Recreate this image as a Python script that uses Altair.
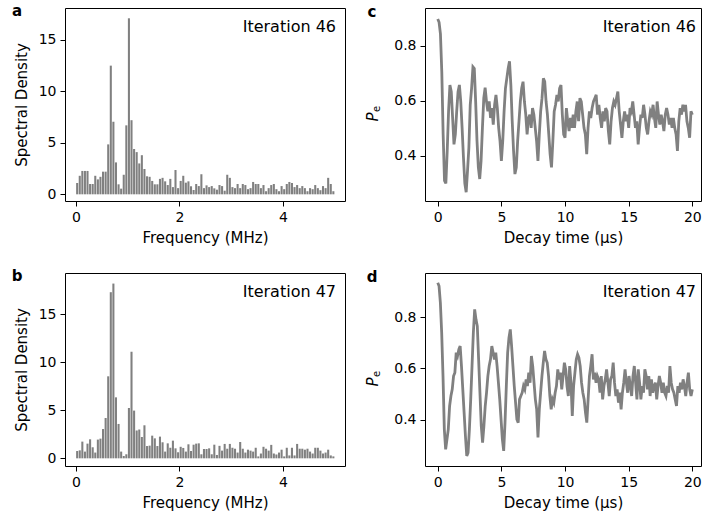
import altair as alt
import numpy as np
import pandas as pd

# ---------------- data ----------------
spec46 = [1.1, 1.8, 2.27, 2.27, 2.27, 1.0, 1.0, 1.8, 1.45, 1.7,
          2.2, 2.2, 4.85, 12.5, 7.05, 3.1, 0.97, 0.55, 1.9, 6.7,
          17.1, 7.2, 4.4, 4.1, 3.0, 3.8, 2.46, 1.75, 1.7, 1.3,
          0.97, 0.97, 1.5, 1.6, 1.26, 0.9, 1.5, 0.7, 2.36, 0.6,
          1.3, 1.8, 1.13, 1.26, 0.78, 0.42, 1.0, 0.8, 1.95, 0.6,
          0.87, 0.7, 0.8, 0.58, 0.45, 0.9,
          0.8, 0.35, 1.9, 1.6, 0.7, 0.6, 1.0, 0.6, 1.0, 0.9,
          0.5, 0.6, 1.2, 1.0, 1.0, 0.6, 0.9, 0.3, 0.6, 0.9,
          1.0, 0.5, 0.3, 0.8, 0.5, 1.0, 1.2, 1.1, 0.7, 0.9,
          0.6, 0.8, 0.6, 0.3, 0.6, 0.5, 0.9, 0.6, 0.4, 0.8,
          0.6, 1.6, 1.0, 0.3]

spec47 = [0.76, 0.83, 1.74, 0.7, 1.53, 1.98, 1.15, 0.6, 1.95, 2.05,
          3.05, 4.2, 8.54, 17.3, 18.2, 6.35, 3.58, 0.7, 0.24, 0.42,
          5.24, 11.1, 4.97, 2.9, 3.0, 2.22, 3.44, 1.28, 1.32, 2.36,
          2.08, 1.28, 2.26, 1.67, 0.7, 1.56, 1.1, 1.84, 1.04, 0.63,
          1.2, 1.08, 0.7, 1.46, 0.76, 1.42, 1.53, 1.56, 0.42, 0.97,
          0.97, 1.04, 0.42, 1.42, 0.35, 1.3,
          0.8, 1.5, 1.0, 1.5, 1.1, 1.0, 0.6, 1.7, 1.0, 0.6,
          0.9, 0.8, 0.7, 1.1, 0.2, 0.5, 1.2, 1.0, 0.8, 1.4,
          0.5, 0.4, 0.6, 0.9, 0.2, 1.1, 0.3, 1.1, 0.3, 1.5,
          1.0, 1.0, 0.9, 1.0, 0.7, 0.5, 1.1, 1.1, 0.8, 0.5,
          0.6, 0.9, 0.3, 0.2]

freqs = list(np.round(0.025 + 0.05 * np.arange(len(spec46)), 3))

pe46 = [0.898, 0.886, 0.844, 0.706, 0.478, 0.31, 0.30, 0.418, 0.562, 0.658,
        0.634, 0.538, 0.442, 0.478, 0.562, 0.634, 0.658, 0.598, 0.502, 0.394,
        0.30, 0.268, 0.346, 0.43, 0.586, 0.646, 0.724, 0.718, 0.598, 0.454,
        0.358, 0.316, 0.382, 0.502, 0.61, 0.648, 0.598, 0.562, 0.598, 0.538,
        0.574, 0.514, 0.586, 0.622, 0.574, 0.502, 0.454, 0.382, 0.454, 0.562,
        0.646, 0.682, 0.718, 0.744, 0.658, 0.526, 0.418, 0.334, 0.358, 0.454,
        0.526, 0.598, 0.646, 0.67, 0.598, 0.55, 0.478, 0.538, 0.55, 0.502,
        0.574, 0.55, 0.502, 0.454, 0.382, 0.478, 0.562, 0.61, 0.682, 0.67,
        0.598, 0.55, 0.478, 0.406, 0.358, 0.454, 0.562, 0.586, 0.622, 0.598,
        0.646, 0.658, 0.55, 0.478, 0.466, 0.574,
        0.526, 0.49, 0.538, 0.502, 0.55, 0.502, 0.562, 0.598, 0.526, 0.61,
        0.598, 0.55, 0.502, 0.478, 0.406, 0.502, 0.562, 0.538, 0.574, 0.598,
        0.61, 0.622, 0.55, 0.586, 0.538, 0.502, 0.562, 0.526, 0.574, 0.562,
        0.49, 0.442, 0.526, 0.574, 0.598, 0.586, 0.61, 0.634, 0.562, 0.514,
        0.466, 0.526, 0.562, 0.526, 0.55, 0.502, 0.574, 0.562, 0.598, 0.55,
        0.502, 0.526, 0.442, 0.502, 0.55, 0.538, 0.586, 0.55, 0.502, 0.478,
        0.526, 0.562, 0.55, 0.586, 0.538, 0.502, 0.598, 0.55, 0.514, 0.55,
        0.526, 0.49, 0.55, 0.574, 0.55, 0.514, 0.538, 0.502, 0.538, 0.502,
        0.478, 0.418, 0.526, 0.574, 0.55, 0.586, 0.562, 0.586, 0.526, 0.502,
        0.466, 0.562, 0.55]

pe47 = [0.934, 0.921, 0.856, 0.739, 0.57, 0.362, 0.284, 0.323, 0.362, 0.453,
        0.492, 0.518, 0.57, 0.583, 0.661, 0.648, 0.674, 0.687, 0.609, 0.518,
        0.427, 0.336, 0.258, 0.271, 0.362, 0.479, 0.609, 0.739, 0.83, 0.791,
        0.765, 0.635, 0.505, 0.375, 0.31, 0.375, 0.453, 0.505, 0.57, 0.609,
        0.635, 0.687, 0.661, 0.635, 0.661, 0.609, 0.544, 0.479, 0.401, 0.323,
        0.278, 0.388, 0.531, 0.661, 0.72, 0.752, 0.687, 0.609, 0.531, 0.466,
        0.401, 0.388, 0.479, 0.492, 0.505, 0.531, 0.518, 0.557, 0.531, 0.583,
        0.544, 0.648, 0.609, 0.544, 0.479, 0.44, 0.33, 0.44, 0.505, 0.57,
        0.622, 0.668, 0.635, 0.622, 0.57, 0.492, 0.44, 0.479, 0.466, 0.505,
        0.531, 0.596, 0.557, 0.583, 0.518, 0.57, 0.622, 0.596, 0.531, 0.492,
        0.609, 0.544, 0.414, 0.531, 0.583, 0.635, 0.655, 0.642, 0.609, 0.544,
        0.505, 0.479, 0.427, 0.388, 0.479, 0.57, 0.609, 0.655, 0.557, 0.583,
        0.544, 0.57, 0.557, 0.505, 0.57, 0.479, 0.531, 0.557, 0.596, 0.544,
        0.492, 0.557, 0.57, 0.622, 0.544, 0.492, 0.518, 0.466, 0.505, 0.44,
        0.505, 0.544, 0.596, 0.544, 0.505, 0.57, 0.531, 0.492, 0.57, 0.609,
        0.544, 0.479, 0.596, 0.544, 0.479, 0.531, 0.505, 0.596, 0.57, 0.518,
        0.57, 0.492, 0.557, 0.505, 0.531, 0.544, 0.479, 0.531, 0.57, 0.544,
        0.505, 0.544, 0.505, 0.492, 0.531, 0.505, 0.609, 0.544, 0.518, 0.505,
        0.479, 0.453, 0.531, 0.505, 0.544, 0.518, 0.557, 0.531, 0.492, 0.544,
        0.583, 0.518, 0.492, 0.518]

t46 = list(np.linspace(0, 20, len(pe46)))
t47 = list(np.linspace(0, 20, len(pe47)))

GRAY = "#808080"
FONT = "DejaVu Sans"
W_L, W_R, H = 280, 276, 193


def spectrum(values, ydom, label, iteration):
    df = pd.DataFrame({"f": freqs, "s": values})
    bars = alt.Chart(df).transform_calculate(
        f0="datum.f - 0.02", f1="datum.f + 0.02"
    ).mark_bar(color=GRAY).encode(
        x=alt.X("f0:Q", scale=alt.Scale(domain=[-0.21, 5.2], nice=False, zero=False),
                axis=alt.Axis(values=[0, 2, 4], title="Frequency (MHz)", format="d")),
        x2="f1:Q",
        y=alt.Y("s:Q", stack=None, scale=alt.Scale(domain=ydom, nice=False),
                axis=alt.Axis(values=[0, 5, 10, 15], title="Spectral Density", titlePadding=9)),
        y2=alt.datum(0),
    )
    lab = alt.Chart(pd.DataFrame({"t": [label]})).mark_text(
        font=FONT, fontSize=15, fontWeight="bold", align="center", baseline="middle"
    ).encode(text="t:N", x=alt.value(-48), y=alt.value(3))
    it = alt.Chart(pd.DataFrame({"t": [iteration]})).mark_text(
        font=FONT, fontSize=16, align="right", baseline="alphabetic", color="black"
    ).encode(text="t:N", x=alt.value(W_L - 9), y=alt.value(24))
    return alt.layer(bars, lab, it).properties(width=W_L, height=H)


def decay(times, values, ydom, label, iteration):
    df = pd.DataFrame({"t": times, "p": values})
    line = alt.Chart(df).mark_line(color=GRAY, strokeWidth=2.8, clip=True).encode(
        x=alt.X("t:Q", scale=alt.Scale(domain=[-1, 20.68], nice=False, zero=False),
                axis=alt.Axis(values=[0, 5, 10, 15, 20], title="Decay time (µs)", format="d")),
        y=alt.Y("p:Q", scale=alt.Scale(domain=ydom, nice=False, zero=False),
                axis=alt.Axis(values=[0.4, 0.6, 0.8], format=".1f", title=None)),
    )
    lab = alt.Chart(pd.DataFrame({"t": [label]})).mark_text(
        font=FONT, fontSize=15, fontWeight="bold", align="center", baseline="middle"
    ).encode(text="t:N", x=alt.value(-53), y=alt.value(4))
    pP = alt.Chart(pd.DataFrame({"t": ["P"]})).mark_text(
        font=FONT, fontSize=15, fontStyle="italic", angle=270, align="center", baseline="middle"
    ).encode(text="t:N", x=alt.value(-52.5), y=alt.value(109))
    pe = alt.Chart(pd.DataFrame({"t": ["e"]})).mark_text(
        font=FONT, fontSize=10, angle=270, align="center", baseline="middle"
    ).encode(text="t:N", x=alt.value(-48.5), y=alt.value(101))
    it = alt.Chart(pd.DataFrame({"t": [iteration]})).mark_text(
        font=FONT, fontSize=16, align="right", baseline="alphabetic", color="black"
    ).encode(text="t:N", x=alt.value(W_R - 5), y=alt.value(24))
    return alt.layer(line, lab, pP, pe, it).properties(width=W_R, height=H)


a = spectrum(spec46, [-0.65, 18.1], "a", "Iteration 46")
b = spectrum(spec47, [-0.8, 19.3], "b", "Iteration 47")
c = decay(t46, pe46, [0.236, 0.938], "c", "Iteration 46")
d = decay(t47, pe47, [0.219, 0.972], "d", "Iteration 47")

chart = alt.concat(
    a, c, b, d, columns=2, spacing={"row": 72, "column": 80}, bounds="flush"
).properties(
    padding={"left": 11, "top": 3, "right": 0, "bottom": 0}
).configure_view(
    stroke="black", strokeWidth=1
).configure_axis(
    domain=False, grid=False, tickColor="black", tickSize=5, tickWidth=1,
    labelFontSize=14, titleFontSize=15, labelColor="black", titleColor="black",
    labelFont=FONT, titleFont=FONT, titleFontWeight="normal", labelPadding=4,
    titlePadding=6
)

chart.save("out.html", embed_options={"renderer": "svg", "actions": False})
